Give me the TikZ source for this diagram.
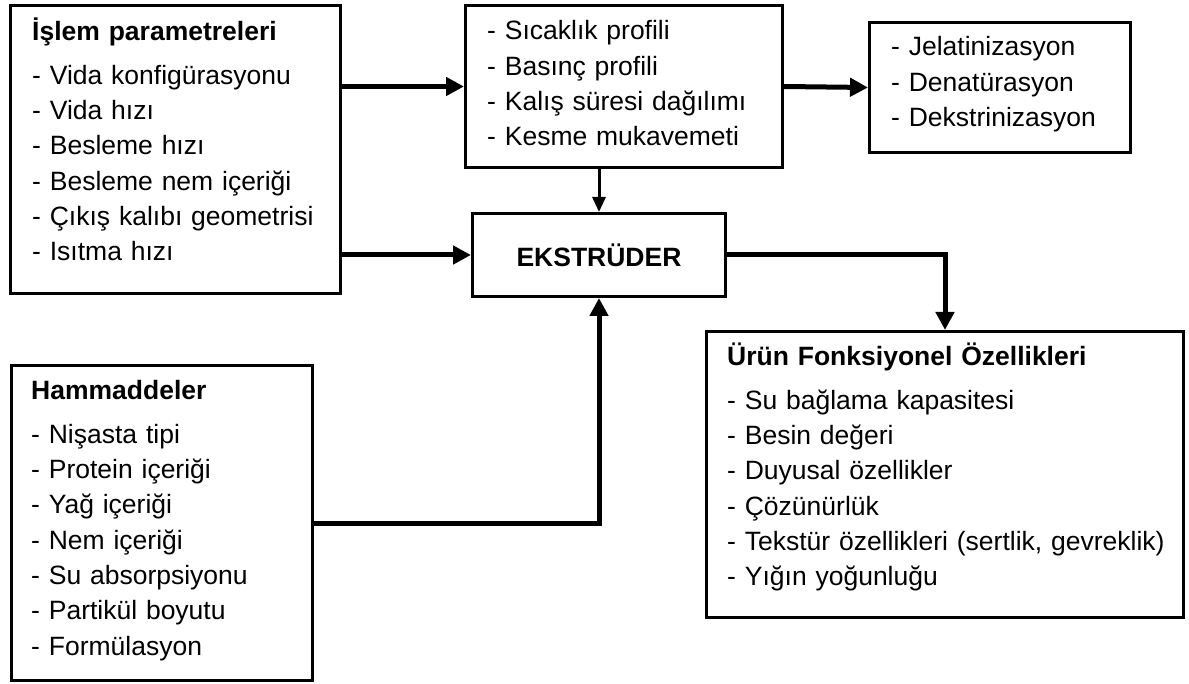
\documentclass[tikz,border=0pt]{standalone}
\usepackage{fontspec}
\setmainfont{Liberation Sans}
\usetikzlibrary{arrows.meta, positioning}

\begin{document}
\begin{tikzpicture}[
    x=1pt, y=-1pt,
    box/.style={rectangle, draw, line width=3pt, inner sep=0pt},
    list/.style={anchor=base west, align=left, inner sep=0pt, text width=#1, font=\fontsize{26.5}{35.3}\selectfont},
    list/.default=440pt,
    arrow/.style={-{Triangle[length=18pt, width=18pt]}, line width=5pt},
    thinarrow/.style={-{Triangle[length=15pt, width=13pt]}, line width=3pt},
]

\useasboundingbox[fill=white] (0,0) rectangle (1189,684);

% Boxes
\node[box, minimum width=330pt, minimum height=288pt] (params) at (175.5,149.5) {};
\node[box, minimum width=317pt, minimum height=162pt] (proc) at (624,86.5) {};
\node[box, minimum width=261pt, minimum height=130pt] (chg) at (1000,87.5) {};
\node[box, minimum width=253pt, minimum height=83pt, font=\fontsize{26.5}{35.3}\selectfont\bfseries] (ext) at (599,255) {EKSTRÜDER};
\node[box, minimum width=301pt, minimum height=315pt] (raw) at (162,523) {};
\node[box, minimum width=477pt, minimum height=286pt] (prod) at (945,474.5) {};

% Texts
\node[list] (params-list) at (32,41) {\textbf{İşlem parametreleri}\\[8pt]
    - Vida konfigürasyonu\\
    - Vida hızı\\
    - Besleme hızı\\
    - Besleme nem içeriği\\
    - Çıkış kalıbı geometrisi\\
    - Isıtma hızı};
\node[list] (proc-list) at (487,40) {- Sıcaklık profili\\
    - Basınç profili\\
    - Kalış süresi dağılımı\\
    - Kesme mukavemeti};
\node[list] (chg-list) at (891,56) {- Jelatinizasyon\\
    - Denatürasyon\\
    - Dekstrinizasyon};
\node[list] (raw-list) at (31,400) {\textbf{Hammaddeler}\\[8pt]
    - Nişasta tipi\\
    - Protein içeriği\\
    - Yağ içeriği\\
    - Nem içeriği\\
    - Su absorpsiyonu\\
    - Partikül boyutu\\
    - Formülasyon};
\node[list] (prod-list) at (727,366) {\textbf{Ürün Fonksiyonel Özellikleri}\\[8pt]
    - Su bağlama kapasitesi\\
    - Besin değeri\\
    - Duyusal özellikler\\
    - Çözünürlük\\
    - Tekstür özellikleri (sertlik, gevreklik)\\
    - Yığın yoğunluğu};

% Arrows
\draw[arrow] (params.east |- proc.west) -- (proc.west);
\draw[arrow] (params.east |- ext.west) -- (ext.west);
\draw[arrow] (proc.east) -- (chg.west);
\draw[thinarrow] (proc.south -| ext.north) -- (ext.north);
\draw[arrow] (raw.east) -| (ext.south);
\draw[arrow] (ext.east) -| (prod.north);

\end{tikzpicture}
\end{document}
